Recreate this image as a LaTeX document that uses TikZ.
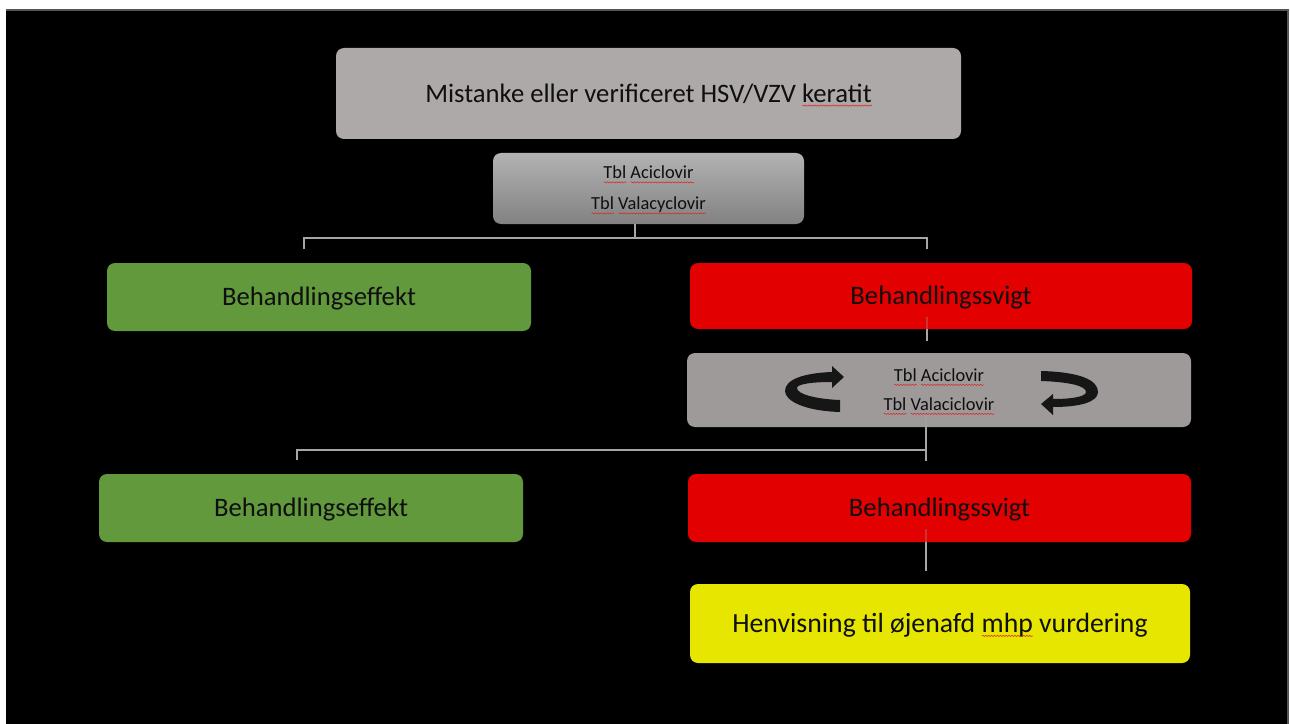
\documentclass[tikz,border=0pt]{standalone}
\usepackage{fontspec}
\setmainfont{Carlito}
\usetikzlibrary{decorations.pathmorphing}
\definecolor{wavered}{RGB}{220,40,40}
\definecolor{topgray}{RGB}{173,169,168}
\definecolor{midgray}{RGB}{158,154,153}
\definecolor{shadetop}{RGB}{178,178,178}
\definecolor{shadebot}{RGB}{130,130,130}
\definecolor{boxgreen}{RGB}{98,153,61}
\definecolor{boxred}{RGB}{226,0,0}
\definecolor{boxyellow}{RGB}{230,230,0}
\definecolor{conngray}{RGB}{166,166,166}
\definecolor{framegray}{RGB}{85,85,85}
\definecolor{textdark}{RGB}{15,15,15}
\definecolor{arrowdark}{RGB}{22,22,22}
\newdimen\wavelen
\newcommand\redwave[1]{\setbox0=\hbox{#1}\wavelen=\wd0\leavevmode\rlap{\tikz[baseline=0pt,x=1pt,y=1pt,sharp corners]\draw[wavered,line width=0.4pt,sharp corners,decorate,decoration={snake,amplitude=0.45pt,segment length=2.2pt}] (0pt,-2.6pt) -- (\the\wavelen,-2.6pt);}#1}
\begin{document}
\begin{tikzpicture}[x=0.75pt,y=-0.75pt,
  box/.style={rounded corners=6pt, draw=none, inner sep=0pt, align=center, text=textdark},
  bigtext/.style={font=\fontsize{20}{24}\selectfont, text height=12.9pt, text depth=0pt},
  smalltext/.style={font=\fontsize{13.8}{23.25}\selectfont, text height=32.15pt, text depth=0pt},
  smalltextb/.style={font=\fontsize{13.8}{21.75}\selectfont, text height=30.65pt, text depth=0pt},
  conn/.style={draw=conngray, line width=1.4pt},
  turnarrow/.style={fill=arrowdark, draw=none}]
\useasboundingbox (0,0) rectangle (1290,724);
\fill[white] (0,0) rectangle (1290,724);
\fill[black] (6,10) rectangle (1288,724);
\draw[framegray, line width=1.1pt] (6,10) -- (1288,10) -- (1288,724);

% nodes
\node[box, bigtext, fill=topgray, minimum width=625*0.75pt, minimum height=91*0.75pt] (top) at (648.5,93.5)
  {Mistanke eller verificeret HSV/VZV \redwave{keratit}};
\node[box, smalltext, top color=shadetop, bottom color=shadebot, minimum width=311*0.75pt, minimum height=71*0.75pt] (drug1) at (648.5,188.5)
  {\redwave{Tbl} \redwave{Aciclovir}\\\redwave{Tbl} \redwave{Valacyclovir}};
\node[box, bigtext, fill=boxgreen, minimum width=424*0.75pt, minimum height=68*0.75pt] (eff1) at (319,297) {Behandlingseffekt};
\node[box, bigtext, fill=boxred, minimum width=502*0.75pt, minimum height=66*0.75pt] (fail1) at (941,296) {Behandlingssvigt};
\node[box, smalltextb, fill=midgray, minimum width=504*0.75pt, minimum height=74*0.75pt] (drug2) at (939,390)
  {\redwave{Tbl} \redwave{Aciclovir}\\\redwave{Tbl} \redwave{Valaciclovir}};
\node[box, bigtext, fill=boxgreen, minimum width=424*0.75pt, minimum height=68*0.75pt] (eff2) at (311,508) {Behandlingseffekt};
\node[box, bigtext, fill=boxred, minimum width=503*0.75pt, minimum height=68*0.75pt] (fail2) at (939.5,508) {Behandlingssvigt};
\node[box, bigtext, font=\fontsize{20.8}{24}\selectfont, text height=13.4pt, fill=boxyellow, minimum width=500*0.75pt, minimum height=79*0.75pt] (refer) at (940,623.5)
  {Henvisning til øjenafd \redwave{mhp} vurdering};

% turning arrows in drug2
\fill[turnarrow] (840,412) .. controls (805,411) and (785,401) .. (785,391)
  .. controls (785,379) and (805,373) .. (832,372) -- (832,366) -- (844,377) -- (832,388) -- (832,382)
  .. controls (812,382) and (797,384) .. (797,388) .. controls (797,394) and (815,399) .. (840,400) -- cycle;
\fill[turnarrow] (1041,371) .. controls (1080,372) and (1098,380) .. (1098,392)
  .. controls (1098,402) and (1080,407) .. (1053,407) -- (1053,415) -- (1041,404) -- (1053,394) -- (1053,399)
  .. controls (1075,399) and (1086,396) .. (1086,392) .. controls (1086,386) and (1070,382) .. (1041,381) -- cycle;

% connector coordinates
\coordinate (d1s) at (635,224);
\coordinate (j1) at (635,238);
\coordinate (j1l) at (304,238);
\coordinate (j1r) at (927,238);
\coordinate (e1t) at (304,249);
\coordinate (f1t) at (927,249);
\coordinate (f1in) at (927,317);
\coordinate (f1s) at (927,329);
\coordinate (d2t) at (927,341);
\coordinate (d2in) at (925.7,415);
\coordinate (d2s) at (925.7,427);
\coordinate (j2) at (925.7,450);
\coordinate (j2l) at (297,450);
\coordinate (e2t) at (297,460);
\coordinate (f2t) at (925.7,461);
\coordinate (f2in) at (925.7,529);
\coordinate (f2s) at (925.7,542);
\coordinate (rt) at (925.7,571);

% connectors
\draw[conn] (d1s) -- (j1);
\draw[conn] (e1t) -- (j1l) -- (j1r) -- (f1t);
\draw[conn, opacity=0.3] (f1in) -- (f1s);
\draw[conn] (f1s) -- (d2t);
\draw[conn, opacity=0.5] (d2in) -- (d2s);
\draw[conn] (d2s) -- (f2t);
\draw[conn] (e2t) -- (j2l) -- (j2);
\draw[conn, opacity=0.3] (f2in) -- (f2s);
\draw[conn] (f2s) -- (rt);
\end{tikzpicture}
\end{document}
